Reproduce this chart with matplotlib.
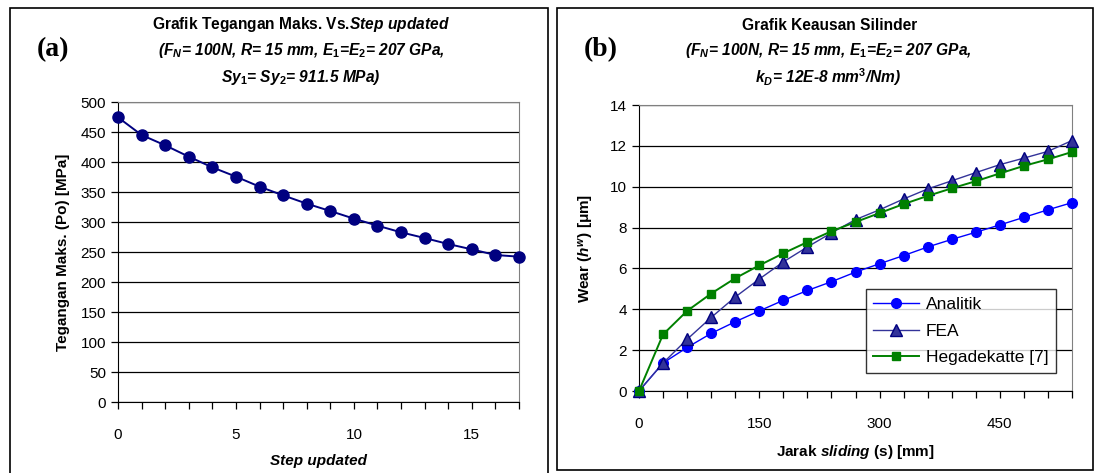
import matplotlib.pyplot as plt
from matplotlib.patches import Rectangle
from matplotlib.ticker import MultipleLocator

plt.rcParams["font.family"] = ["Liberation Sans", "DejaVu Sans"]
plt.rcParams["mathtext.fontset"] = "custom"
plt.rcParams["mathtext.it"] = "Liberation Sans:italic:bold"
plt.rcParams["mathtext.rm"] = "Liberation Sans:bold"

# --- data (a)
step = list(range(18))
tegangan = [474.4, 445.0, 427.8, 408.9, 391.1, 375.6, 358.9, 344.4, 330.6,
            318.3, 305.6, 293.9, 282.8, 273.3, 263.3, 254.4, 245.0, 242.2]

# --- data (b)
jarak = [0, 30, 60, 90, 120, 150, 180, 210, 240, 270, 300, 330, 360, 390,
         420, 450, 480, 510, 540]
analitik = [0.0, 1.37, 2.13, 2.82, 3.39, 3.92, 4.44, 4.92, 5.35, 5.82, 6.23,
            6.63, 7.05, 7.42, 7.77, 8.13, 8.50, 8.87, 9.22]
fea = [0.0, 1.37, 2.53, 3.60, 4.60, 5.48, 6.32, 7.05, 7.74, 8.39, 8.87, 9.40,
       9.89, 10.29, 10.69, 11.08, 11.40, 11.73, 12.26]
hegadekatte = [0.0, 2.77, 3.92, 4.77, 5.52, 6.15, 6.74, 7.29, 7.82, 8.27, 8.71,
               9.15, 9.55, 9.92, 10.27, 10.65, 11.02, 11.34, 11.70]

W, H = 1095, 473
fig = plt.figure(figsize=(W / 100, H / 100), dpi=100)


def fx(px):
    return px / W


def fy(py):
    return 1 - py / H


# panel frames
fig.patches.append(Rectangle((fx(10), fy(480)), fx(538), fy(8) - fy(480),
                             transform=fig.transFigure, fill=False,
                             edgecolor="black", lw=1.2))
fig.patches.append(Rectangle((fx(557), fy(470)), fx(536), fy(8) - fy(470),
                             transform=fig.transFigure, fill=False,
                             edgecolor="black", lw=1.2))


def style_axes(ax):
    for s in ["top", "right"]:
        ax.spines[s].set_color("#808080")
    for s in ["left", "bottom"]:
        ax.spines[s].set_color("black")
    ax.yaxis.grid(True, color="black", lw=0.9)
    ax.set_axisbelow(True)
    ax.tick_params(axis="both", labelsize=11, direction="out", length=5,
                   width=0.9)
    ax.tick_params(axis="x", which="minor", direction="out", length=5,
                   width=0.9)
    ax.tick_params(axis="x", pad=14)


# ---------- (a)
ax1 = fig.add_axes([fx(118), fy(402), fx(401), fy(102) - fy(402)])
ax1.plot(step, tegangan, color="#000080", lw=1.4, marker="o", ms=8,
         clip_on=False, zorder=3)
ax1.set_xlim(0, 17)
ax1.set_ylim(0, 500)
ax1.xaxis.set_major_locator(MultipleLocator(5))
ax1.xaxis.set_minor_locator(MultipleLocator(1))
ax1.yaxis.set_major_locator(MultipleLocator(50))
style_axes(ax1)
ax1.set_ylabel("Tegangan Maks. (Po) [MPa]", fontsize=11, fontweight="bold",
               labelpad=8)
ax1.set_xlabel("Step updated", fontsize=11, fontweight="bold",
               fontstyle="italic", labelpad=8)

fig.text(fx(301), fy(25), r"Grafik Tegangan Maks. Vs.$\it{Step\ updated}$",
         ha="center", va="center", fontsize=11.2, fontweight="bold")
fig.text(fx(301), fy(51), r"(F$_N$= 100N, R= 15 mm, E$_1$=E$_2$= 207 GPa,",
         ha="center", va="center", fontsize=11.2, fontweight="bold",
         fontstyle="italic")
fig.text(fx(301), fy(77), r"Sy$_1$= Sy$_2$= 911.5 MPa)", ha="center",
         va="center", fontsize=11.2, fontweight="bold", fontstyle="italic")
fig.text(fx(53), fy(50), "(a)", ha="center", va="center", fontsize=20,
         fontweight="bold", family=["Liberation Serif", "DejaVu Serif"])

# ---------- (b)
ax2 = fig.add_axes([fx(639), fy(391), fx(433), fy(105) - fy(391)])
ax2.plot(jarak, analitik, color="#0000FF", lw=1.0, marker="o", ms=7,
         label="Analitik", clip_on=False, zorder=3)
ax2.plot(jarak, fea, color="#333399", lw=1.0, marker="^", ms=8,
         markerfacecolor="#333399", markeredgecolor="#000080", label="FEA",
         clip_on=False, zorder=3)
ax2.plot(jarak, hegadekatte, color="#008000", lw=1.4, marker="s", ms=6,
         label="Hegadekatte [7]", clip_on=False, zorder=3)
ax2.set_xlim(0, 540)
ax2.set_ylim(0, 14)
ax2.xaxis.set_major_locator(MultipleLocator(150))
ax2.xaxis.set_minor_locator(MultipleLocator(30))
ax2.yaxis.set_major_locator(MultipleLocator(2))
style_axes(ax2)
ax2.set_ylabel("Wear ($\\it{h^w}$) [μm]", fontsize=11, fontweight="bold",
               labelpad=10)
ax2.set_xlabel("Jarak $\\it{sliding}$ (s) [mm]", fontsize=11,
               fontweight="bold", labelpad=8)
leg = ax2.legend(loc="lower right", bbox_to_anchor=(0.975, 0.045),
                 fontsize=12.5, frameon=True, fancybox=False,
                 edgecolor="black", handlelength=2.6, borderpad=0.45,
                 labelspacing=0.65, handletextpad=0.4, borderaxespad=0.3)
leg.get_frame().set_linewidth(1.0)

fig.text(fx(830), fy(25), "Grafik Keausan Silinder", ha="center",
         va="center", fontsize=11.2, fontweight="bold")
fig.text(fx(828), fy(51), r"(F$_N$= 100N, R= 15 mm, E$_1$=E$_2$= 207 GPa,",
         ha="center", va="center", fontsize=11.2, fontweight="bold",
         fontstyle="italic")
fig.text(fx(828), fy(77), r"k$_D$= 12E-8 mm$^3$/Nm)", ha="center",
         va="center", fontsize=11.2, fontweight="bold", fontstyle="italic")
fig.text(fx(601), fy(50), "(b)", ha="center", va="center", fontsize=20,
         fontweight="bold", family=["Liberation Serif", "DejaVu Serif"])

fig.savefig("out.png", dpi=100)
